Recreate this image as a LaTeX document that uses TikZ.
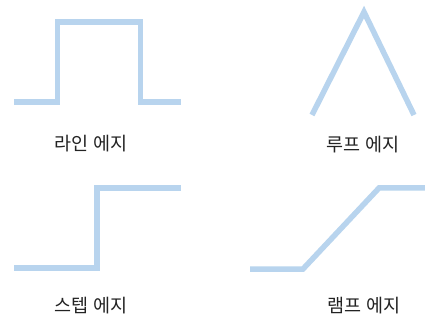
\documentclass[tikz,border=0pt]{standalone}
\usepackage{fontspec}
\newfontfamily\kr{Noto Sans CJK KR}
\definecolor{edgeblue}{RGB}{184,212,238}
\definecolor{labeltext}{RGB}{35,35,35}
\begin{document}
\begin{tikzpicture}[x=1pt,y=-1pt,
  edgeline/.style={draw=edgeblue,line width=5.5pt,line join=miter},
  lab/.style={font=\kr\fontsize{18.5}{22}\selectfont,text=labeltext,inner sep=0pt}]
\useasboundingbox[fill=white] (0,0) rectangle (425,320);
% line edge
\coordinate (l0) at (14,102);
\coordinate (l1) at (57.5,102);
\coordinate (l2) at (57.5,22);
\coordinate (l3) at (140.5,22);
\coordinate (l4) at (140.5,102);
\coordinate (l5) at (181,102);
\draw[edgeline] (l0) -- (l1) -- (l2) -- (l3) -- (l4) -- (l5);
\node[lab] (lineL) at (91,144) {라인 에지};
% roof edge
\coordinate (r0) at (312,115);
\coordinate (r1) at (364,12);
\coordinate (r2) at (414,115);
\draw[edgeline] (r0) -- (r1) -- (r2);
\node[lab] (roofL) at (363,145) {루프 에지};
% step edge
\coordinate (s0) at (14,268);
\coordinate (s1) at (97,268);
\coordinate (s2) at (97,188);
\coordinate (s3) at (181,188);
\draw[edgeline] (s0) -- (s1) -- (s2) -- (s3);
\node[lab] (stepL) at (91,306) {스텝 에지};
% ramp edge
\coordinate (p0) at (250,269);
\coordinate (p1) at (303,269);
\coordinate (p2) at (379,188);
\coordinate (p3) at (425,188);
\draw[edgeline] (p0) -- (p1) -- (p2) -- (p3);
\node[lab] (rampL) at (364,306) {램프 에지};
\end{tikzpicture}
\end{document}
